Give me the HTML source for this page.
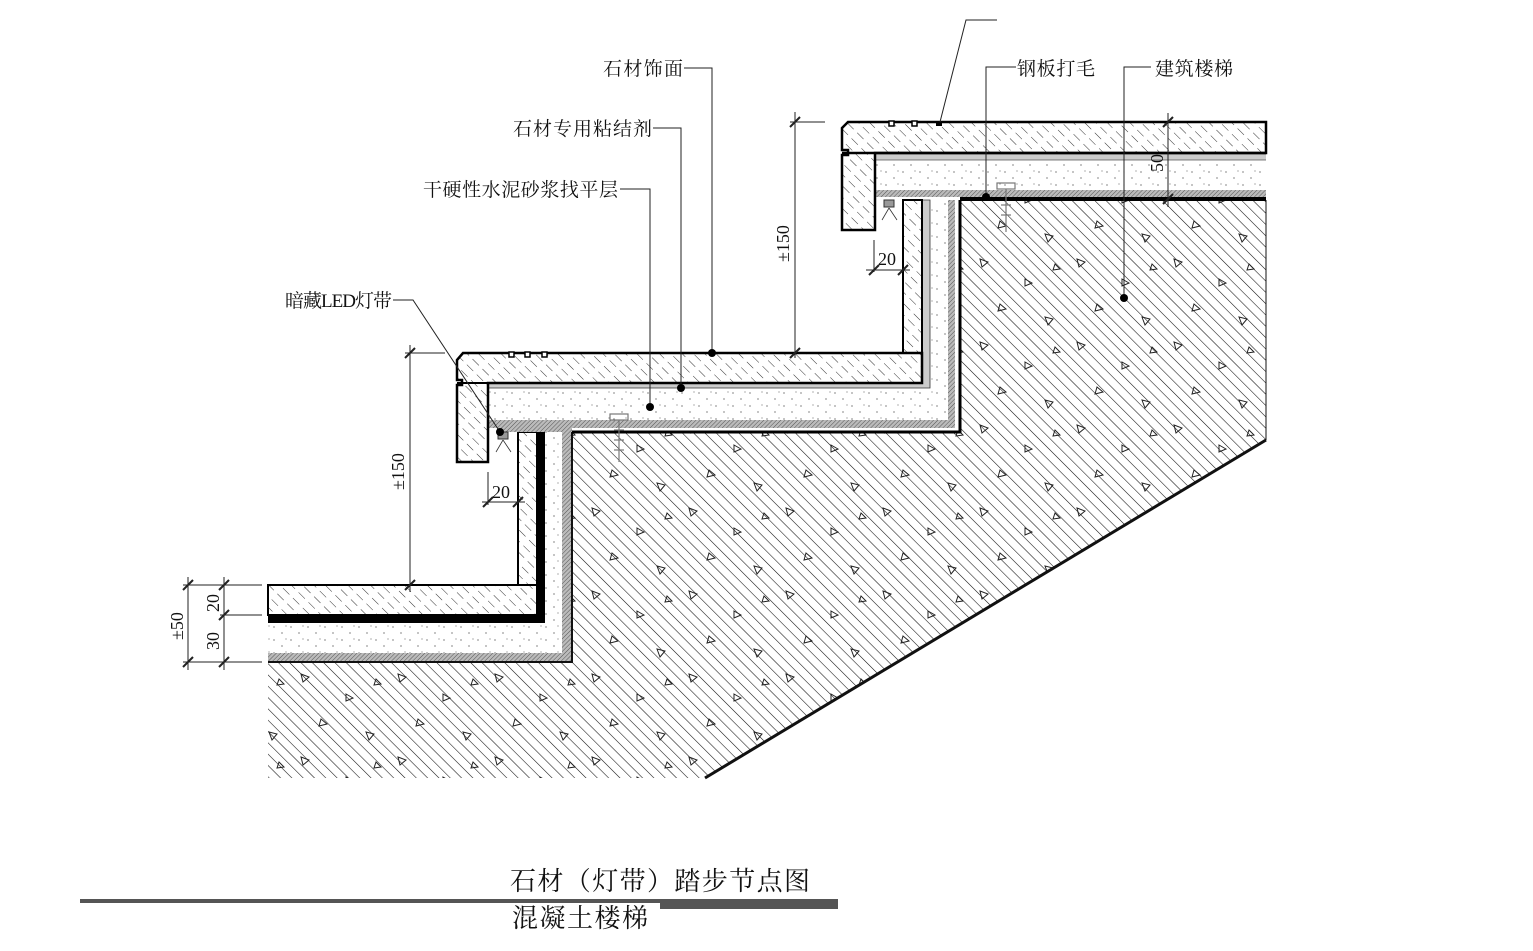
<!DOCTYPE html>
<html><head><meta charset="utf-8"><style>
html,body{margin:0;padding:0;background:#fff}
svg{display:block}
text{font-family:"Liberation Serif","Noto Serif CJK SC",serif;fill:#111}
</style></head><body>
<svg width="1533" height="951" viewBox="0 0 1533 951" xmlns="http://www.w3.org/2000/svg">
<defs>
<pattern id="conc" width="8" height="8" patternUnits="userSpaceOnUse" patternTransform="rotate(-45)">
<line x1="0" y1="0" x2="0" y2="8" stroke="#111" stroke-width="1.1"/>
</pattern>
<pattern id="tri" width="97" height="83" patternUnits="userSpaceOnUse">
<g fill="none" stroke="#222" stroke-width="1"><path d="M10,10 l8,3 l-6,5 z"/><path d="M55,30 l7,4 l-7,3 z"/><path d="M30,55 l6,5 l-8,2 z"/><path d="M75,68 l8,2 l-5,6 z"/><path d="M85,15 l5,5 l-7,1 z"/></g>
</pattern>
<pattern id="stone" width="8" height="14" patternUnits="userSpaceOnUse" patternTransform="rotate(-45)">
<line x1="0" y1="0" x2="0" y2="9" stroke="#333" stroke-width="1"/>
</pattern>
<pattern id="dots" width="17" height="13" patternUnits="userSpaceOnUse">
<circle cx="2" cy="3" r="0.6" fill="#333"/><circle cx="10" cy="9" r="0.6" fill="#333"/><circle cx="14" cy="2" r="0.5" fill="#333"/>
</pattern>
<pattern id="fine" width="3" height="3" patternUnits="userSpaceOnUse" patternTransform="rotate(45)">
<rect width="3" height="3" fill="#bbb"/><line x1="0" y1="0" x2="0" y2="3" stroke="#555" stroke-width="1"/>
</pattern>
</defs>

<polygon points="268,662 572,662 572,432 960,432 960,200 1266,200 1266,440 705,778 268,778" fill="url(#conc)"/>
<polygon points="268,662 572,662 572,432 960,432 960,200 1266,200 1266,440 705,778 268,778" fill="url(#tri)"/>
<polyline points="1266,440 705,778" stroke="#111" stroke-width="3" fill="none"/>
<line x1="1266" y1="200" x2="1266" y2="440" stroke="#111" stroke-width="1"/>

<polygon points="268,653 562,653 562,432 572,432 572,662 268,662" fill="url(#fine)"/>
<polyline points="268,662 572,662 572,432" stroke="#111" stroke-width="2" fill="none"/>
<polygon points="268,623 545,623 545,432 562,432 562,653 268,653" fill="#fff"/>
<polygon points="268,623 545,623 545,432 562,432 562,653 268,653" fill="url(#dots)"/>
<polygon points="268,615 537,615 537,432 545,432 545,623 268,623" fill="#000"/>
<rect x="268" y="585" width="269" height="30" fill="url(#stone)" stroke="#000" stroke-width="2"/>
<rect x="518" y="432" width="19" height="153" fill="url(#stone)" stroke="#000" stroke-width="2"/>

<polygon points="488,420 948,420 948,200 955,200 955,428 488,428" fill="url(#fine)"/>
<polygon points="497,428 572,428 572,432 497,432" fill="url(#fine)"/>
<polyline points="572,432 960,432 960,200" stroke="#000" stroke-width="3" fill="none"/>
<polygon points="488,388 930,388 930,200 948,200 948,420 488,420" fill="#fff"/>
<polygon points="488,388 930,388 930,200 948,200 948,420 488,420" fill="url(#dots)"/>
<polygon points="488,383 922,383 922,200 930,200 930,388 488,388" fill="#ccc" stroke="#333" stroke-width="0.8"/>
<rect x="903" y="200" width="19" height="153" fill="url(#stone)" stroke="#000" stroke-width="2"/>
<path d="M463,353 L922,353 L922,383 L488,383 L488,462 L457,462 L457,385 L462,385 L462,380 L457,380 L457,360 Z" fill="url(#stone)" stroke="#000" stroke-width="2.5"/>
<g fill="#fff" stroke="#000" stroke-width="1.5"><rect x="509" y="352" width="5" height="5"/><rect x="525" y="352" width="5" height="5"/><rect x="542" y="352" width="5" height="5"/></g>
<line x1="457" y1="383" x2="488" y2="383" stroke="#000" stroke-width="2"/>

<rect x="875" y="190" width="391" height="7" fill="url(#fine)"/>
<line x1="960" y1="199" x2="1266" y2="199" stroke="#000" stroke-width="4"/>
<rect x="875" y="160" width="391" height="30" fill="#fff"/>
<rect x="875" y="160" width="391" height="30" fill="url(#dots)"/>
<rect x="875" y="153" width="391" height="7" fill="#ccc"/>
<line x1="875" y1="160" x2="1266" y2="160" stroke="#555" stroke-width="0.8"/>
<path d="M848,122 L1266,122 L1266,153 L875,153 L875,230 L842,230 L842,155 L848,155 L848,150 L842,150 L842,128 Z" fill="url(#stone)" stroke="#000" stroke-width="2.5"/>
<g fill="#fff" stroke="#000" stroke-width="1.5"><rect x="889" y="121" width="5" height="5"/><rect x="912" y="121" width="5" height="5"/></g>
<rect x="936" y="121" width="6" height="5" fill="#000"/>
<line x1="842" y1="153" x2="1266" y2="153" stroke="#000" stroke-width="2.5"/>

<g stroke="#777" stroke-width="1.2" fill="none">
<rect x="610" y="414" width="18" height="6"/><line x1="619" y1="420" x2="619" y2="462"/><line x1="614" y1="430" x2="624" y2="430"/><line x1="614" y1="440" x2="624" y2="440"/><line x1="614" y1="450" x2="624" y2="450"/>
<rect x="997" y="183" width="18" height="6"/><line x1="1006" y1="189" x2="1006" y2="232"/><line x1="1001" y1="205" x2="1011" y2="205"/><line x1="1001" y1="215" x2="1011" y2="215"/>
</g>
<g stroke="#333" stroke-width="1" fill="#999"><rect x="498" y="432" width="10" height="7"/><rect x="884" y="200" width="10" height="7"/></g>
<g stroke="#333" stroke-width="0.8"><line x1="503" y1="440" x2="496" y2="452"/><line x1="503" y1="440" x2="511" y2="452"/><line x1="889" y1="208" x2="882" y2="220"/><line x1="889" y1="208" x2="897" y2="220"/></g>

<g stroke="#222" stroke-width="1" fill="none">
<polyline points="684,68 712,68 712,353"/>
<polyline points="653,128 681,128 681,388"/>
<polyline points="620,189 650,189 650,407"/>
<polyline points="393,300 413,300 500,432"/>
<polyline points="997,20 966,20 940,122"/>
<polyline points="1016,67 986,67 986,197"/>
<polyline points="1151,67 1124,67 1124,298"/>
</g>
<g fill="#000"><circle cx="712" cy="353" r="4"/><circle cx="681" cy="388" r="4"/><circle cx="650" cy="407" r="4"/><circle cx="500" cy="432" r="4"/><circle cx="986" cy="197" r="4"/><circle cx="1124" cy="298" r="4"/></g>
<g font-size="19">
<text x="603" y="75" textLength="80">石材饰面</text>
<text x="513" y="135" textLength="139">石材专用粘结剂</text>
<text x="423" y="196" textLength="195">干硬性水泥砂浆找平层</text>
<text x="285" y="307" textLength="107">暗藏LED灯带</text>
<text x="1017" y="75" textLength="78">钢板打毛</text>
<text x="1155" y="75" textLength="78">建筑楼梯</text>
</g>

<g stroke="#222" stroke-width="1" fill="none">
<line x1="410" y1="345" x2="410" y2="592"/><line x1="405" y1="353" x2="445" y2="353"/>
<line x1="405" y1="358" x2="415" y2="348" stroke-width="2"/><line x1="405" y1="590" x2="415" y2="580" stroke-width="2"/>
<line x1="795" y1="112" x2="795" y2="358"/><line x1="790" y1="122" x2="825" y2="122"/>
<line x1="790" y1="127" x2="800" y2="117" stroke-width="2"/><line x1="790" y1="358" x2="800" y2="348" stroke-width="2"/>
<line x1="1168" y1="113" x2="1168" y2="207"/>
<line x1="1163" y1="127" x2="1173" y2="117" stroke-width="2"/><line x1="1163" y1="204" x2="1173" y2="194" stroke-width="2"/>
<line x1="188" y1="577" x2="188" y2="670"/><line x1="224" y1="577" x2="224" y2="670"/>
<line x1="183" y1="585" x2="262" y2="585"/><line x1="220" y1="615" x2="262" y2="615"/><line x1="183" y1="662" x2="262" y2="662"/>
<line x1="183" y1="590" x2="193" y2="580" stroke-width="2"/><line x1="183" y1="667" x2="193" y2="657" stroke-width="2"/>
<line x1="219" y1="590" x2="229" y2="580" stroke-width="2"/><line x1="219" y1="620" x2="229" y2="610" stroke-width="2"/><line x1="219" y1="667" x2="229" y2="657" stroke-width="2"/>
<line x1="488" y1="472" x2="488" y2="505"/><line x1="482" y1="502" x2="525" y2="502"/>
<line x1="483" y1="507" x2="493" y2="497" stroke-width="2"/><line x1="513" y1="507" x2="523" y2="497" stroke-width="2"/>
<line x1="874" y1="240" x2="874" y2="272"/><line x1="866" y1="270" x2="910" y2="270"/>
<line x1="869" y1="275" x2="879" y2="265" stroke-width="2"/><line x1="898" y1="275" x2="908" y2="265" stroke-width="2"/>
</g>
<g font-size="18">
<text x="492" y="498">20</text>
<text x="878" y="265">20</text>
<text transform="translate(404,490) rotate(-90)">±150</text>
<text transform="translate(789,262) rotate(-90)">±150</text>
<text transform="translate(183,640) rotate(-90)">±50</text>
<text transform="translate(219,612) rotate(-90)">20</text>
<text transform="translate(219,650) rotate(-90)">30</text>
<text transform="translate(1163,172) rotate(-90)">50</text>
</g>

<text x="510" y="890" font-size="26" textLength="300">石材（灯带）踏步节点图</text>
<rect x="80" y="899" width="758" height="4" fill="#555"/>
<rect x="660" y="899" width="178" height="10" fill="#555"/>
<text x="512" y="927" font-size="26" textLength="136">混凝土楼梯</text>
</svg>
</body></html>
